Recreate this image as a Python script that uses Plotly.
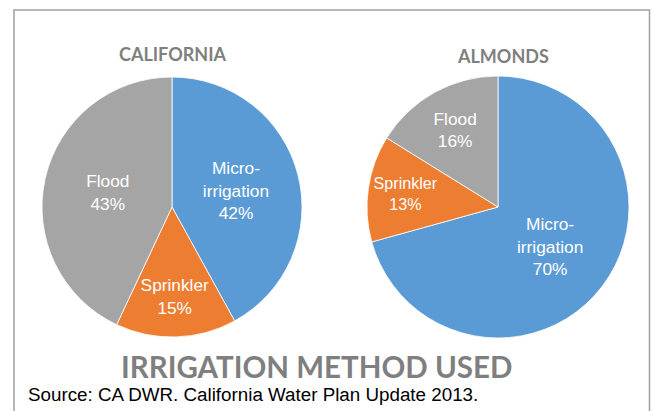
import plotly.graph_objects as go

W, H = 653, 411

methods = ["Micro-<br>irrigation", "Sprinkler", "Flood"]
california_pct = [42, 15, 43]
almonds_pct = [70, 13, 16]
chart_titles = ["CALIFORNIA", "ALMONDS"]
main_title = "IRRIGATION METHOD USED"
source_note = "Source: CA DWR. California Water Plan Update 2013."

colors = ["#5B9BD5", "#ED7D31", "#A5A5A5"]
TITLE_GRAY = "#7F7F7F"

def px_x(v):
    return v / W

def px_y(v):
    return 1 - v / H

def pie(values, x0, x1, y0, y1):
    return go.Pie(
        labels=methods,
        values=values,
        sort=False,
        direction="clockwise",
        rotation=0,
        texttemplate="%{label}<br>%{value}%",
        textposition="inside",
        insidetextorientation="horizontal",
        insidetextfont=dict(family="Liberation Sans, Arial", size=17.3, color="white"),
        marker=dict(colors=colors, line=dict(color="white", width=0.8)),
        hoverinfo="label+value",
        showlegend=False,
        domain=dict(x=[px_x(x0), px_x(x1)], y=[px_y(y1), px_y(y0)]),
    )

fig = go.Figure()
fig.add_trace(pie(california_pct, 42, 302, 77, 337))
fig.add_trace(pie(almonds_pct, 367, 629, 76, 338))

ann = []
ann.append(dict(text="<b>" + chart_titles[0] + "</b>", x=px_x(172.5), y=px_y(54), xref="paper", yref="paper",
                showarrow=False, xanchor="center", yanchor="middle",
                font=dict(family="Lato, Open Sans", size=18, color=TITLE_GRAY)))
ann.append(dict(text="<b>" + chart_titles[1] + "</b>", x=px_x(503), y=px_y(55.5), xref="paper", yref="paper",
                showarrow=False, xanchor="center", yanchor="middle",
                font=dict(family="Lato, Open Sans", size=18, color=TITLE_GRAY)))
ann.append(dict(text="<b>" + main_title + "</b>", x=px_x(316.5), y=px_y(366.5), xref="paper", yref="paper",
                showarrow=False, xanchor="center", yanchor="middle",
                font=dict(family="Lato, Open Sans", size=29.5, color=TITLE_GRAY)))
ann.append(dict(text=source_note, x=px_x(25.5), y=px_y(394), xref="paper", yref="paper",
                showarrow=False, xanchor="left", yanchor="middle",
                font=dict(family="Liberation Sans, Arial", size=18.8, color="black")))

fig.update_layout(
    width=W, height=H,
    margin=dict(l=0, r=0, t=0, b=0),
    paper_bgcolor="white",
    plot_bgcolor="white",
    annotations=ann,
    shapes=[dict(type="rect", xref="paper", yref="paper",
                 x0=px_x(14), x1=px_x(649.5), y0=-0.05, y1=px_y(10),
                 line=dict(color="#A0A0A0", width=1.5), fillcolor="rgba(0,0,0,0)")],
)

fig.write_html("out.html", config={"displayModeBar": False},
               post_script="document.body.style.margin='0';document.body.style.overflow='hidden';")
